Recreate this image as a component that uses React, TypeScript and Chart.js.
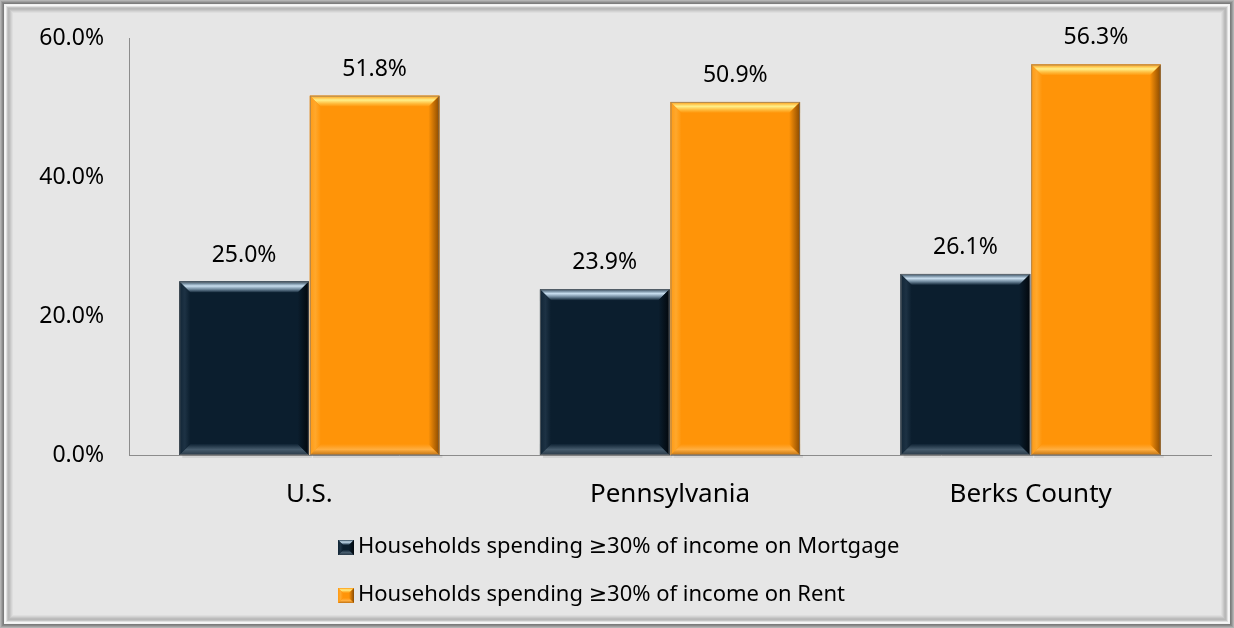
import React, { useEffect, useRef } from "react";
import { Chart, registerables } from "chart.js";

Chart.register(...registerables);

const categories = ["U.S.", "Pennsylvania", "Berks County"];
const mortgageValues = [25.0, 23.9, 26.1];
const rentValues = [51.8, 50.9, 56.3];
const seriesLabels = [
  "Households spending \u226530% of income on Mortgage",
  "Households spending \u226530% of income on Rent",
];
const yTicks = [0, 20, 40, 60];

const FONT = "'Noto Sans', 'DejaVu Sans', sans-serif";
const BG = "#e6e6e6";

type Bevel = {
  base: string;
  top: [number, string][];
  bottom: [number, string][];
  left: [number, string][];
  right: [number, string][];
};

const bevels: Bevel[] = [
  {
    base: "#0b1e2e",
    top: [[0, "#2e465a"], [0.4, "#c9dff0"], [0.7, "#6f889c"], [1, "#0f2334"]],
    bottom: [[0, "#0f2334"], [0.5, "#465b6c"], [1, "#2a3a48"]],
    left: [[0, "#112536"], [0.5, "#1d3244"], [1, "#0b1e2e"]],
    right: [[0, "#0b1e2e"], [1, "#02070c"]],
  },
  {
    base: "#ff9408",
    top: [[0, "#ff9a10"], [0.4, "#fff08a"], [0.7, "#ffbe40"], [1, "#ff9408"]],
    bottom: [[0, "#ff9408"], [0.5, "#ffae40"], [1, "#c47412"]],
    left: [[0, "#ff9a14"], [0.5, "#ffa82c"], [1, "#ff9408"]],
    right: [[0, "#ff9408"], [1, "#8a4a00"]],
  },
];

function grad(ctx: CanvasRenderingContext2D, x0: number, y0: number, x1: number, y1: number, stops: [number, string][]) {
  const g = ctx.createLinearGradient(x0, y0, x1, y1);
  stops.forEach(([o, c]) => g.addColorStop(o, c));
  return g;
}

function poly(ctx: CanvasRenderingContext2D, pts: number[][], fill: any) {
  ctx.beginPath();
  ctx.moveTo(pts[0][0], pts[0][1]);
  for (let i = 1; i < pts.length; i++) ctx.lineTo(pts[i][0], pts[i][1]);
  ctx.closePath();
  ctx.fillStyle = fill;
  ctx.fill();
}

function drawBevelBox(ctx: CanvasRenderingContext2D, l: number, t: number, r: number, bot: number, b: number, bv: Bevel) {
  ctx.fillStyle = bv.base;
  ctx.fillRect(l, t, r - l, bot - t);
  poly(ctx, [[l, t], [r, t], [r - b, t + b], [l + b, t + b]], grad(ctx, 0, t, 0, t + b, bv.top));
  poly(ctx, [[l, bot], [r, bot], [r - b, bot - b], [l + b, bot - b]], grad(ctx, 0, bot - b, 0, bot, bv.bottom));
  poly(ctx, [[l, t], [l + b, t + b], [l + b, bot - b], [l, bot]], grad(ctx, l, 0, l + b, 0, bv.left));
  poly(ctx, [[r, t], [r - b, t + b], [r - b, bot - b], [r, bot]], grad(ctx, r - b, 0, r, 0, bv.right));
}

const framePlugin = {
  id: "frame",
  beforeDraw(chart: any) {
    const ctx = chart.ctx as CanvasRenderingContext2D;
    const W = chart.width;
    const H = chart.height;
    ctx.save();
    ctx.fillStyle = BG;
    ctx.fillRect(0, 0, W, H);
    const rings = ["#b4b4b4", "#a0a0a0", "#8a8a8a", "#7c7c7c", "#f2f2f2", "#f6f6f6", "#e0e0e0", "#c4c4c4", "#b8b8b8", "#bcbcbc", "#c8c8c8", "#d4d4d4", "#dedede"];
    rings.forEach((c, i) => {
      ctx.strokeStyle = c;
      ctx.lineWidth = 1;
      ctx.strokeRect(i + 0.5, i + 0.5, W - 2 * i - 1, H - 2 * i - 1);
    });
    ctx.restore();
  },
};

const bevelPlugin = {
  id: "bevelBars",
  afterDatasetsDraw(chart: any) {
    const ctx = chart.ctx as CanvasRenderingContext2D;
    ctx.save();
    chart.data.datasets.forEach((ds: any, di: number) => {
      const meta = chart.getDatasetMeta(di);
      meta.data.forEach((bar: any, i: number) => {
        const { x, y, base, width } = bar.getProps(["x", "y", "base", "width"], true);
        const l = x - width / 2;
        const r = x + width / 2;
        ctx.fillStyle = "rgba(0,0,0,0.08)";
        ctx.fillRect(l + 3, base, r - l, 3);
        drawBevelBox(ctx, l, y, r, base, 11, bevels[di]);
        ctx.strokeStyle = "rgba(120,120,120,0.6)";
        ctx.lineWidth = 1;
        ctx.strokeRect(l + 0.5, y + 0.5, r - l - 1, base - y - 1);
        ctx.fillStyle = "#000";
        ctx.font = `23px ${FONT}`;
        ctx.textAlign = "center";
        ctx.textBaseline = "alphabetic";
        ctx.fillText(ds.data[i].toFixed(1) + "%", x, y - 20);
      });
    });
    ctx.restore();
  },
  afterDraw(chart: any) {
    const ctx = chart.ctx as CanvasRenderingContext2D;
    ctx.save();
    const rows = [547, 595];
    seriesLabels.forEach((lab, i) => {
      const cy = rows[i];
      drawBevelBox(ctx, 338, cy - 7, 354, cy + 8, 5, bevels[i]);
      ctx.fillStyle = "#000";
      ctx.font = `22px ${FONT}`;
      ctx.textAlign = "left";
      ctx.textBaseline = "middle";
      ctx.fillText(lab, 358, cy);
    });
    ctx.restore();
  },
};

export default function App() {
  const ref = useRef<HTMLCanvasElement>(null);
  useEffect(() => {
    if (!ref.current) return;
    const chart = new Chart(ref.current, {
      type: "bar",
      data: {
        labels: categories,
        datasets: [
          { label: seriesLabels[0], data: mortgageValues, backgroundColor: bevels[0].base, categoryPercentage: 0.724, barPercentage: 0.992 },
          { label: seriesLabels[1], data: rentValues, backgroundColor: bevels[1].base, categoryPercentage: 0.724, barPercentage: 0.992 },
        ],
      },
      options: {
        animation: false,
        responsive: false,
        maintainAspectRatio: false,
        events: [],
        layout: { padding: { left: 0, top: 35, right: 23, bottom: 113 } },
        plugins: { legend: { display: false }, tooltip: { enabled: false } },
        scales: {
          x: {
            grid: { display: false, drawTicks: false },
            border: { display: true, color: "#8c8c8c", width: 1 },
            ticks: { color: "#000", font: { family: FONT, size: 26 }, padding: 24 },
            afterFit: (s: any) => { s.height = 60; },
          },
          y: {
            min: 0,
            max: 60,
            afterBuildTicks: (s: any) => { s.ticks = yTicks.map((v) => ({ value: v })); },
            grid: { display: false, drawTicks: false },
            border: { display: true, color: "#8c8c8c", width: 1 },
            ticks: {
              color: "#000",
              font: { family: FONT, size: 23 },
              padding: 25,
              callback: (v: any) => Number(v).toFixed(1) + "%",
            },
            afterFit: (s: any) => { s.width = 129; },
          },
        },
      },
      plugins: [framePlugin, bevelPlugin],
    });
    return () => chart.destroy();
  }, []);
  return (
    <div style={{ position: "absolute", left: 0, top: 0, width: 1234, height: 628 }}>
      <canvas ref={ref} width={1234} height={628} style={{ width: 1234, height: 628, display: "block" }} />
    </div>
  );
}
